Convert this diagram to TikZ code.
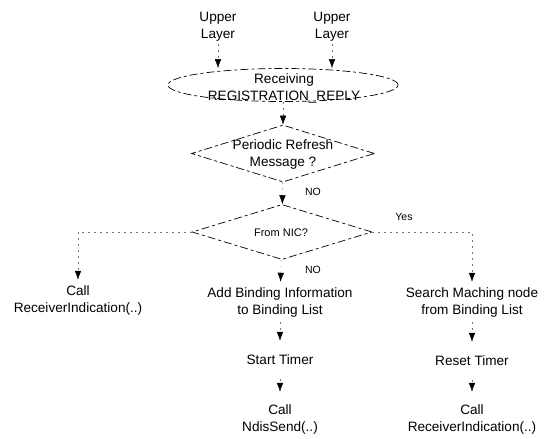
\documentclass[tikz,border=0pt]{standalone}
\usepackage{fontspec}
\setmainfont{Liberation Sans}
\usetikzlibrary{shapes.geometric,arrows.meta}
\begin{document}
\begin{tikzpicture}[x=1pt,y=-1pt,
  txt/.style={align=center,font=\fontsize{13.6}{17}\selectfont,inner sep=2pt},
  box/.style={txt,minimum width=150pt},
  lbl/.style={font=\fontsize{10.5}{12}\selectfont,inner sep=0pt},
  brk/.style={draw,line width=0.7pt,dash pattern=on 8pt off 3pt on 3pt off 3pt},
  diam/.style={brk,diamond,inner sep=0pt},
  link/.style={line width=0.4pt,black!55,dash pattern=on 2pt off 4pt,
    -{Latex[length=9pt,width=6.5pt,color=black]}}]
\useasboundingbox (0,0) rectangle (558,439);
% top
\node[txt] (up1) at (218,27) {Upper\\Layer};
\node[txt] (up2) at (332,27) {Upper\\Layer};
\node[brk,ellipse,minimum width=230pt,minimum height=33pt,inner sep=0pt] (ell) at (283,85) {};
\node[txt] (ellt) at (284,88) {Receiving\\REGISTRATION\_REPLY};
% decisions
\node[diam,minimum width=183pt,minimum height=57pt] (d1) at (283,153.5) {};
\node[txt] (d1t) at (283,154) {Periodic Refresh\\Message ?};
\node[diam,minimum width=180pt,minimum height=55pt] (d2) at (282,232) {};
\node[txt,font=\fontsize{11}{13}\selectfont] (d2t) at (281,233) {From NIC?};
% boxes (borders not shown)
\node[box,minimum height=40pt] (ri1) at (78,300) {Call\\ReceiverIndication(..)};
\node[box,minimum height=40pt] (add) at (280,302) {Add Binding Information\\to Binding List};
\node[box,minimum height=38pt] (start) at (280,360) {Start Timer};
\node[box,minimum height=54pt] (ndis) at (280,419) {Call\\NdisSend(..)};
\node[box,minimum height=40pt] (search) at (472,302) {Search Maching node\\from Binding List};
\node[box,minimum height=38pt] (reset) at (472,361) {Reset Timer};
\node[box,minimum height=54pt] (ri2) at (472,419) {Call\\ReceiverIndication(..)};
% labels
\node[lbl] (no1) at (313,192) {NO};
\node[lbl] (no2) at (313,270) {NO};
\node[lbl] (yes) at (404,217) {Yes};
% connectors
\draw[link] (up1) -- (up1 |- ell.north);
\draw[link] (up2) -- (up2 |- ell.north);
\draw[link] (ell) -- (d1);
\draw[link] (d1) -- (d2);
\draw[link] (d2) -- (add);
\draw[link] (d2.west) -| (ri1);
\draw[link] (d2.east) -| (search);
\draw[link] (add) -- (start);
\draw[link] (start) -- (ndis);
\draw[link] (search) -- (reset);
\draw[link] (reset) -- (ri2);
\end{tikzpicture}
\end{document}
